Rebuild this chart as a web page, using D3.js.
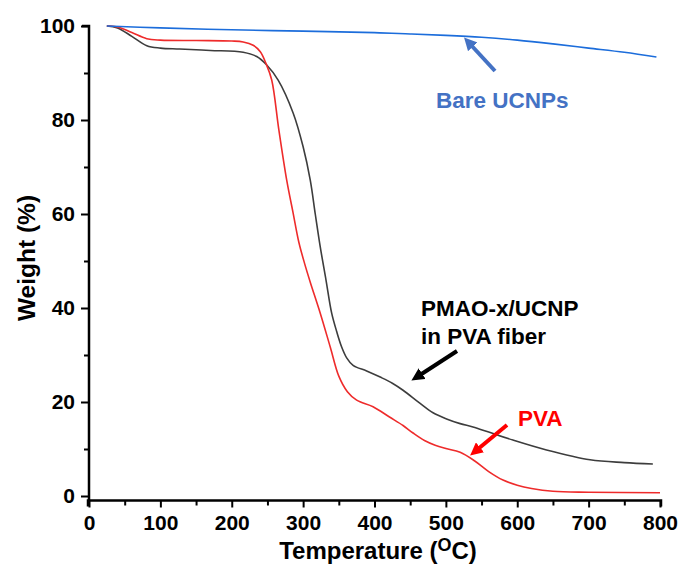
<!DOCTYPE html>
<html><head><meta charset="utf-8">
<script src="https://cdn.jsdelivr.net/npm/d3@7"></script>
<style>body{margin:0;background:#fff}svg{display:block}text{font-family:"Liberation Sans",Arial,sans-serif;font-weight:bold}</style>
</head><body><svg id="c" width="682" height="567"></svg>
<script>
const xTicks = [0,100,200,300,400,500,600,700,800];
const yTicks = [0,20,40,60,80,100];
const bareTemp = [25,100,200,300,400,450,500,550,600,650,700,750,795];
const bareWeight = [100,99.6,99.2,98.9,98.6,98.3,98.0,97.6,97.0,96.2,95.3,94.4,93.4];
const pvaTemp = [25,40,60,81,100,150,200,216,230,240,248,256,266,277,286,294,302,310,324,338,350,362,375,398,421,440,454,470,485,500,520,540,560,580,600,620,650,700,800];
const pvaWeight = [100,99.8,98.6,97.3,97.0,96.9,96.8,96.6,95.9,94.5,92,88.5,77.9,67.2,60.2,54,49.5,45.5,38.9,31.7,25.5,22.2,20.4,19,16.8,15,13.4,11.8,10.8,10.1,9.3,7.5,5.2,3.4,2.3,1.6,1.0,0.8,0.7];
const fiberTemp = [25,40,60,81,100,127,170,216,235,249,265,286,300,310,317,324,332,340,347,354,361,370,389,408,425,440,463,482,501,520,538,560,594,641,702,750,790];
const fiberWeight = [100,99.6,97.8,95.8,95.3,95.1,94.8,94.4,93.5,91.7,88.5,81.5,74.3,67.2,60,53,46,38.9,35,31.7,29.4,27.8,26.6,25.3,24,22.5,19.8,17.7,16.4,15.4,14.7,13.6,11.9,9.8,7.7,7.1,6.8];

const svg = d3.select("#c");
const x = d3.scaleLinear().domain([0,800]).range([89,660]);
const y = d3.scaleLinear().domain([0,100]).range([496,26]);
const yBottom = 500.5;

// axes
const gx = svg.append("g").attr("transform",`translate(0,${yBottom})`)
  .call(d3.axisBottom(x).tickValues(d3.range(0,801,50)).tickSize(6).tickFormat(d=>xTicks.includes(d)?d:""));
const gy = svg.append("g").attr("transform","translate(89,0)")
  .call(d3.axisLeft(y).tickValues(d3.range(0,101,10)).tickSize(6).tickFormat(d=>yTicks.includes(d)?d:""));
[gx,gy].forEach(g=>{
  g.select(".domain").attr("stroke","#000").attr("stroke-width",2.5);
  g.selectAll(".tick line").attr("stroke","#000").attr("stroke-width",2);
  g.selectAll(".tick text").attr("fill","#000").style("font-size","21px").style("font-family","Liberation Sans, Arial, sans-serif").style("font-weight","bold");
});
gx.select(".domain").attr("d",`M88,6V0H${x(800)+1}V6`);
gx.selectAll(".tick line").attr("y2",d=>xTicks.includes(d)?7:5);
gx.selectAll(".tick text").attr("dy","0").attr("y",29.5);
gy.select(".domain").attr("d",`M-7,${y(100)}H0V${yBottom-y(0)+y(0)}`);
gy.selectAll(".tick line").attr("x2",d=>yTicks.includes(d)?-8:-5);
gy.selectAll(".tick text").attr("x",-14);

const line = d3.line().x(d=>x(d[0])).y(d=>y(d[1])).curve(d3.curveCatmullRom.alpha(0.5));
function drawSeries(t,w,color){
  svg.append("path").datum(t.map((v,i)=>[v,w[i]])).attr("d",line)
    .attr("fill","none").attr("stroke",color).attr("stroke-width",1.6);
}
drawSeries(fiberTemp,fiberWeight,"#3d3d3d");
drawSeries(pvaTemp,pvaWeight,"#ee2b2b");
drawSeries(bareTemp,bareWeight,"#1c6ddb");

// arrows
const defs = svg.append("defs");
function marker(id,color){
  defs.append("marker").attr("id",id).attr("viewBox","0 0 10 10").attr("refX",2).attr("refY",5)
    .attr("markerWidth",3.2).attr("markerHeight",3.2).attr("orient","auto")
    .append("path").attr("d","M0,0L10,5L0,10z").attr("fill",color);
}
marker("ab","#4472c4");marker("ak","#000");marker("ar","#ff0000");
function arrow(x1,y1,x2,y2,color,id){
  svg.append("line").attr("x1",x1).attr("y1",y1).attr("x2",x2).attr("y2",y2)
    .attr("stroke",color).attr("stroke-width",4).attr("marker-end",`url(#${id})`);
}
arrow(495,71,471,45,"#4472c4","ab");
arrow(457,351,420,375,"#000","ak");
arrow(507,425,478,449,"#ff0000","ar");

// labels
function label(tx,ty,str,color){
  svg.append("text").attr("x",tx).attr("y",ty).attr("fill",color).style("font-size","22.5px").text(str);
}
label(436,108,"Bare UCNPs","#4472c4");
label(421,316,"PMAO-x/UCNP","#000");
label(421,344,"in PVA fiber","#000");
label(518,426,"PVA","#ff0000");

// axis titles
svg.append("text").attr("transform","translate(35,258) rotate(-90)").attr("text-anchor","middle")
  .style("font-size","24.5px").attr("fill","#000").text("Weight (%)");
const xt = svg.append("text").attr("x",378).attr("y",559).attr("text-anchor","middle")
  .style("font-size","24px").attr("fill","#000");
xt.append("tspan").text("Temperature (");
xt.append("tspan").attr("dy",-8).style("font-size","18px").text("O");
xt.append("tspan").attr("dy",8).text("C)");
</script></body></html>
